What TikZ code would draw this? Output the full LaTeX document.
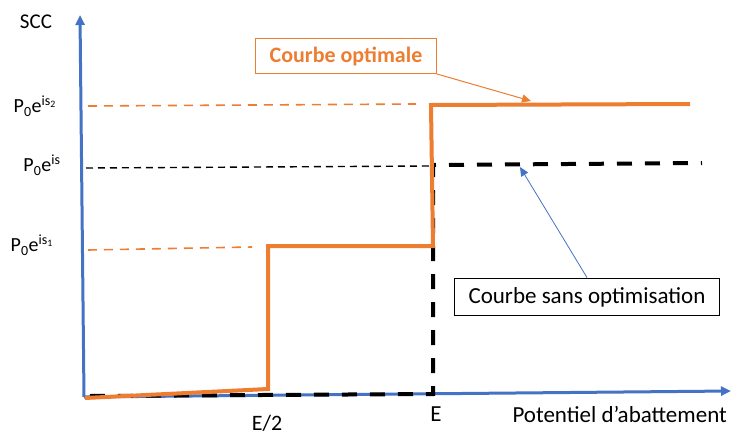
\documentclass[tikz,border=0pt]{standalone}
\usepackage{fontspec}
\setmainfont{Carlito}
\usetikzlibrary{arrows.meta}
\definecolor{axisblue}{RGB}{68,114,196}
\definecolor{optorange}{RGB}{237,125,49}
\newcommand{\pexp}[1]{P\textsubscript{0}e\textsuperscript{is#1}}

\begin{document}
\begin{tikzpicture}[x=1pt,y=-1pt,
  axe/.style={axisblue,line width=3pt,-{Triangle[length=10pt,width=9pt]}},
  guide/.style={line width=1.6pt,dash pattern=on 9pt off 7pt},
  optcurve/.style={optorange,line width=4pt},
  basecurve/.style={black,line width=4pt,dash pattern=on 15pt off 13pt},
  lbl/.style={font=\fontsize{20}{24}\selectfont,inner sep=0pt},
  callout/.style={draw,line width=1pt,font=\fontsize{23}{27}\selectfont,inner xsep=14pt,inner ysep=9pt}]
\useasboundingbox (0,0) rectangle (732,437);

% axes
\coordinate (O) at (84,397);
\coordinate (ytop) at (80,15);
\coordinate (xend) at (731,391);
\draw[axe] (O) -- (ytop);
\draw[axe] (O) -- (xend);

% axis labels
\node[lbl,font=\fontsize{21}{24}\selectfont] (scc) at (36,22) {SCC};
\node[lbl] (pis2) at (35,106) {\pexp{\textsubscript{2}}};
\node[lbl] (pis) at (42,165) {\pexp{}};
\node[lbl] (pis1) at (32,245) {\pexp{\textsubscript{1}}};
\node[lbl,font=\fontsize{22}{26}\selectfont] (ehalf) at (267,423) {E/2};
\node[lbl,font=\fontsize{23}{27}\selectfont] (efull) at (436,414) {E};
\node[lbl,font=\fontsize{23}{27}\selectfont,anchor=east] (pot) at (727,414) {Potentiel d’abattement};

% guide lines
\draw[guide,optorange] (88,106) -- (416,104);
\draw[guide,black,line width=1.4pt,dash pattern=on 7pt off 5pt] (86,168) -- (430,166);
\draw[guide,optorange] (88,250) -- (252,247);

% curve without optimisation
\draw[basecurve] (90,396) -- (433,394) -- (433,165) -- (702,163);

% optimal curve
\draw[optcurve] (85,398) -- (268,389) -- (268,246) -- (433,246) -- (431,105) -- (690,104);

% callouts
\node[callout,optorange,text=optorange,inner ysep=8pt,font=\fontsize{22}{26}\selectfont\bfseries] (opt) at (346,56) {Courbe optimale};
\node[callout,black,line width=1.2pt] (sans) at (587,297) {Courbe sans optimisation};
\coordinate (optpt) at (531,101);
\coordinate (sanspt) at (520,167);
\draw[optorange,line width=1pt,-{Triangle[length=9pt,width=8pt]}] (opt.south east) -- (optpt);
\draw[axisblue,line width=0.8pt,-{Triangle[length=9pt,width=8pt]}] (sans.north) -- (sanspt);
\end{tikzpicture}
\end{document}
